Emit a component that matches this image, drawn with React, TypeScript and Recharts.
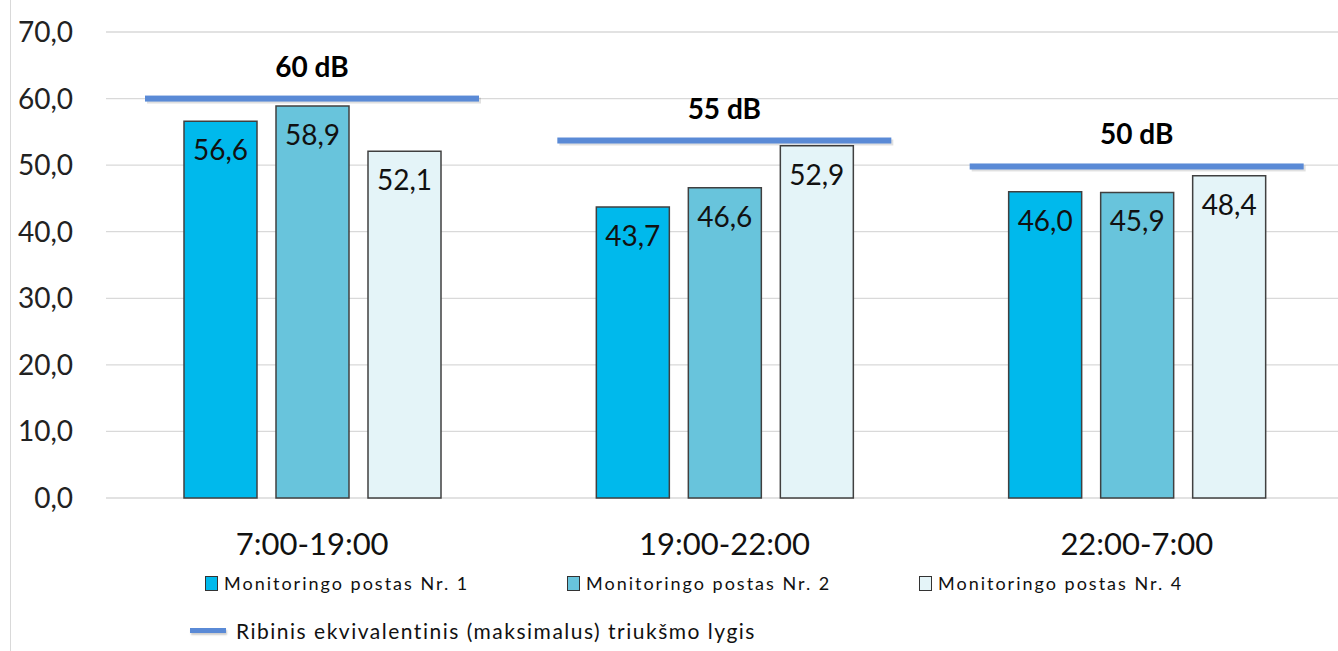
import React from 'react'
import { BarChart, Bar, XAxis, YAxis, CartesianGrid, LabelList } from 'recharts'

const periods = ['7:00-19:00', '19:00-22:00', '22:00-7:00']
const post1 = [56.6, 43.7, 46.0]
const post2 = [58.9, 46.6, 45.9]
const post4 = [52.1, 52.9, 48.4]
const limitValues = [60, 53.7, 49.8]
const limitLabels = ['60 dB', '55 dB', '50 dB']
const yTicks = [0, 10, 20, 30, 40, 50, 60, 70]

const seriesNames = ['Monitoringo postas Nr. 1', 'Monitoringo postas Nr. 2', 'Monitoringo postas Nr. 4']
const limitName = 'Ribinis ekvivalentinis (maksimalus) triukšmo lygis'
const colors = ['#00B9EC', '#68C4DC', '#E4F4F8']
const limitColor = '#5A8AD6'
const FONT = 'Lato, "Noto Sans", sans-serif'

const data = periods.map((period, i) => ({
  period,
  p1: post1[i],
  p2: post2[i],
  p4: post4[i],
  limit: limitValues[i],
  limitLabel: limitLabels[i],
}))

const fmt = (v: number) => Number(v).toFixed(1).replace('.', ',')

// horizontal limit line drawn at the top of an invisible bar
function LimitShape(props: any) {
  const { x, y, width } = props
  return (
    <g>
      <rect x={x + 2} y={y - 1} width={width} height={6} fill="#000" opacity={0.12} />
      <rect x={x} y={y - 3} width={width} height={6} fill={limitColor} />
    </g>
  )
}

export default function App() {
  const valueLabel = { position: 'insideTop' as const, offset: 19, fill: '#111', fontSize: 28, fontFamily: FONT, formatter: fmt }
  return (
    <div style={{ position: 'absolute', left: 0, top: 0, width: 1338, height: 651, background: '#fff', fontFamily: FONT }}>
      <div style={{ position: 'absolute', left: 10, top: 0, width: 1, height: 651, background: '#D9D9D9' }} />
      <BarChart width={1338} height={651} data={data} barGap={19} margin={{ top: 32, right: -5, bottom: 93, left: 10 }}>
        <CartesianGrid vertical={false} stroke="#D9D9D9" strokeWidth={1.3} />
        <XAxis dataKey="period" axisLine={false} tickLine={false} tickSize={0} tickMargin={35} height={60}
          tick={{ fontSize: 31, fill: '#111', fontFamily: FONT }} />
        <XAxis xAxisId="lim" dataKey="period" hide />
        <YAxis domain={[0, 70]} ticks={yTicks} axisLine={false} tickLine={false} tickSize={0} tickMargin={33} width={96}
          tickFormatter={fmt} tick={{ fontSize: 28, fill: '#222', fontFamily: FONT }} />
        <Bar dataKey="p1" name={seriesNames[0]} fill={colors[0]} stroke="#404040" strokeWidth={1.5} barSize={73} isAnimationActive={false}>
          <LabelList dataKey="p1" {...valueLabel} />
        </Bar>
        <Bar dataKey="p2" name={seriesNames[1]} fill={colors[1]} stroke="#404040" strokeWidth={1.5} barSize={73} isAnimationActive={false}>
          <LabelList dataKey="p2" {...valueLabel} />
        </Bar>
        <Bar dataKey="p4" name={seriesNames[2]} fill={colors[2]} stroke="#404040" strokeWidth={1.5} barSize={73} isAnimationActive={false}>
          <LabelList dataKey="p4" {...valueLabel} />
        </Bar>
        <Bar xAxisId="lim" dataKey="limit" name={limitName} barSize={334} shape={<LimitShape />} isAnimationActive={false}>
          <LabelList dataKey="limitLabel" position="top" offset={22} fill="#000" fontSize={28} fontWeight={700} fontFamily={FONT} />
        </Bar>
      </BarChart>

      {/* legend */}
      {seriesNames.map((name, i) => (
        <div key={name} style={{ position: 'absolute', left: [205, 567, 919][i], top: 572, display: 'flex', alignItems: 'center', fontSize: 18, letterSpacing: 2, color: '#111' }}>
          <span style={{ display: 'inline-block', width: 11, height: 13, background: colors[i], border: '1.5px solid #333', marginRight: 6 }} />
          <span>{name}</span>
        </div>
      ))}
      <div style={{ position: 'absolute', left: 190, top: 618, display: 'flex', alignItems: 'center', fontSize: 21, letterSpacing: 1.5, color: '#111' }}>
        <span style={{ display: 'inline-block', width: 36, height: 5, background: limitColor, marginRight: 10, boxShadow: '1px 2px 2px rgba(0,0,0,0.2)' }} />
        <span>{limitName}</span>
      </div>
    </div>
  )
}
